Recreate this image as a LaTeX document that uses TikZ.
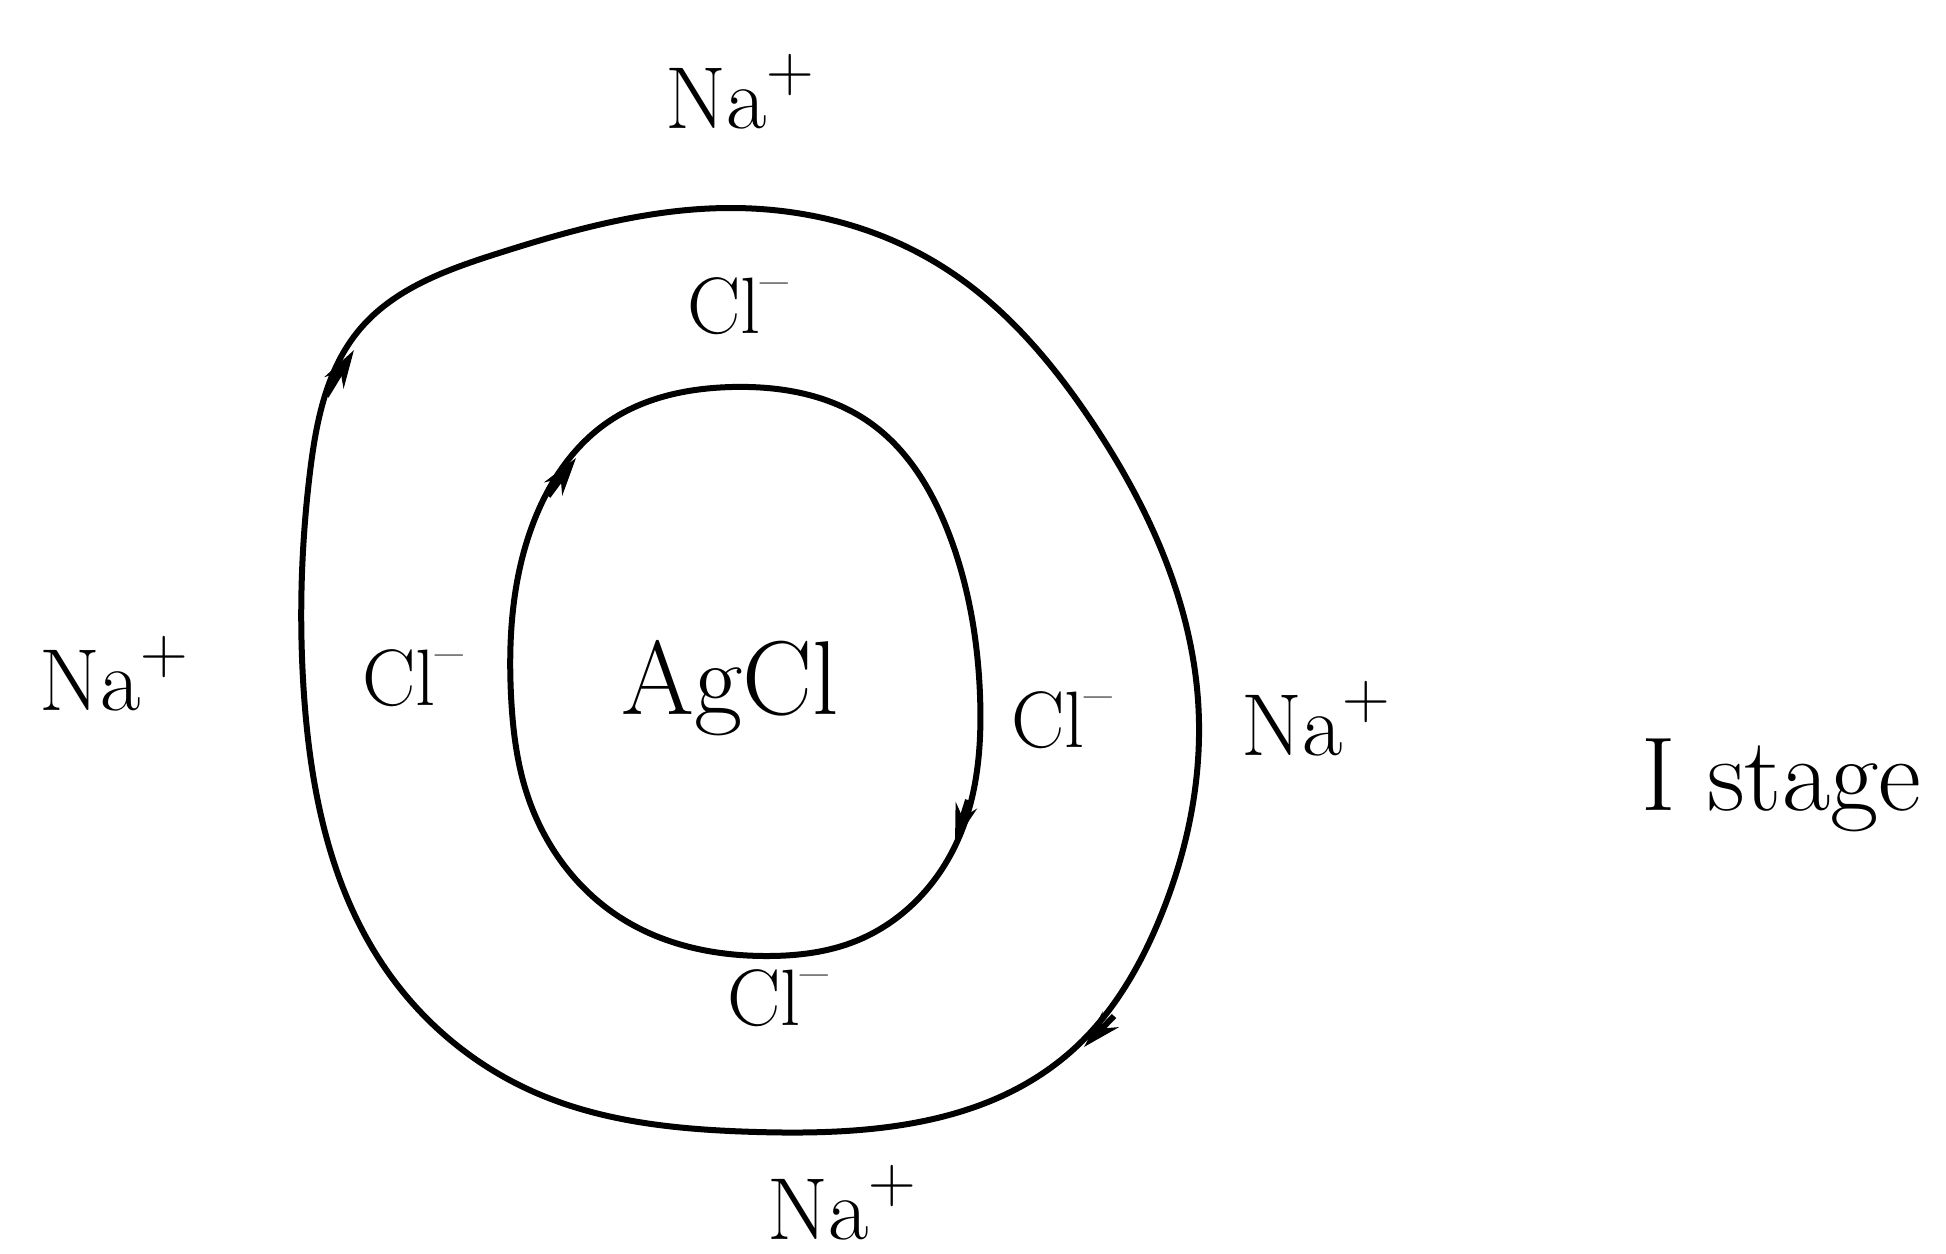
\documentclass[tikz,border=0pt]{standalone}
\usepackage{fontspec}
\usepackage{graphicx}
\usetikzlibrary{arrows.meta,hobby}
\newcommand\ionsup[1]{\raisebox{0.42em}{\scalebox{0.75}{#1}}}
\tikzset{
  loopline/.style={line width=6pt, line join=round},
  arrtip/.style={line width=6pt, -{Stealth[length=38pt,width=22pt]}},
  ionlbl/.style={anchor=base, inner sep=0pt, font=\fontsize{88}{96}\selectfont},
  cllbl/.style={anchor=base, inner sep=0pt, font=\fontsize{80}{88}\selectfont},
  biglbl/.style={anchor=base, inner sep=0pt, font=\fontsize{105}{115}\selectfont},
}
\begin{document}
\begin{tikzpicture}[x=1pt,y=-1pt]
\useasboundingbox (0,0) rectangle (1946,1253);
\fill[white] (0,0) rectangle (1946,1253);

% outer loop (clockwise)
\draw[loopline, use Hobby shortcut, closed=true]
   (732,208) .. (943,267) .. (1092,422) .. (1198,700) .. (1160,918)
   .. (1067,1055) .. (757,1132) .. (534,1092) .. (385,968) .. (304,695)
   .. (310,472) .. (360,329) .. (496,254);

% inner loop (clockwise)
\draw[loopline, use Hobby shortcut, closed=true]
   (732,387) .. (869,422) .. (949,534) .. (980,695) .. (956,844)
   .. (856,941) .. (769,956) .. (621,918) .. (527,794) .. (511,695)
   .. (534,521) .. (608,422);

% direction marks
\coordinate (oa1) at (326,396);
\coordinate (oa2) at (354,350);
\coordinate (ob1) at (1114,1016);
\coordinate (ob2) at (1084,1047);
\coordinate (ia1) at (548,496);
\coordinate (ia2) at (576,458);
\coordinate (ib1) at (968,800);
\coordinate (ib2) at (955,842);
\draw[arrtip] (oa1) -- (oa2);
\draw[arrtip] (ob1) -- (ob2);
\draw[arrtip] (ia1) -- (ia2);
\draw[arrtip] (ib1) -- (ib2);

% labels
\node[ionlbl] (natop) at (740,128) {Na\ionsup{+}};
\node[ionlbl] (naleft) at (114,710) {Na\ionsup{+}};
\node[ionlbl] (naright) at (1316,755) {Na\ionsup{+}};
\node[ionlbl] (nabot) at (842,1239) {Na\ionsup{+}};

\node[cllbl] (cltop) at (738,333) {Cl\ionsup{--}};
\node[cllbl] (clleft) at (413,705) {Cl\ionsup{--}};
\node[cllbl] (clright) at (1062,747) {Cl\ionsup{--}};
\node[cllbl] (clbot) at (778,1025) {Cl\ionsup{--}};

\node[biglbl] (agcl) at (730,714) {AgCl};
\node[biglbl] (stage) at (1781,810) {I stage};
\end{tikzpicture}
\end{document}
